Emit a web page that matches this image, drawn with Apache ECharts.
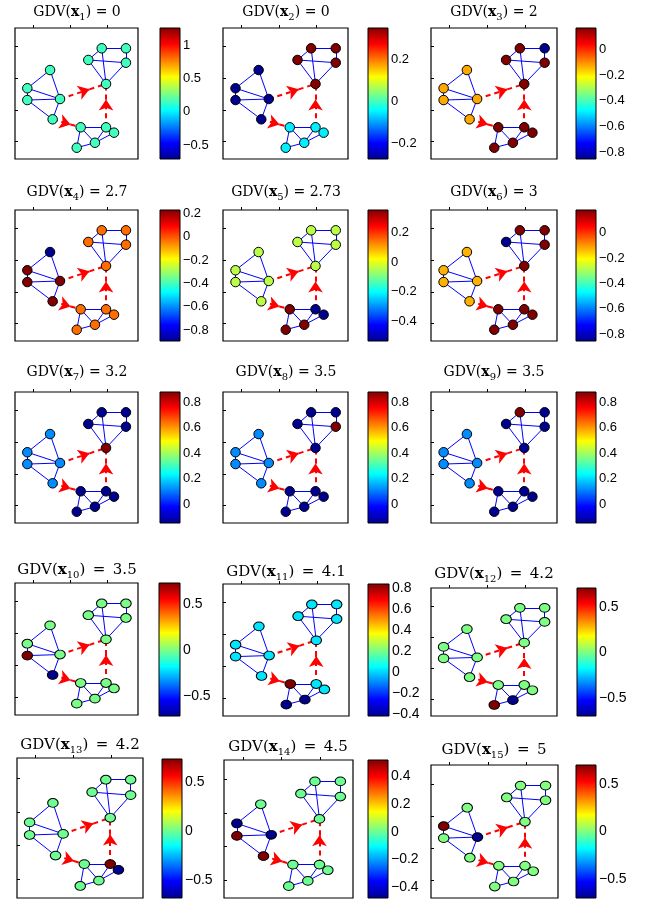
<!DOCTYPE html>
<html>
<head>
<meta charset="utf-8">
<script src="https://cdn.jsdelivr.net/npm/echarts@6/dist/echarts.min.js"></script>
<style>
  html, body { margin: 0; padding: 0; background: #fff; }
  #main { width: 652px; height: 906px; }
</style>
</head>
<body>
<div id="main"></div>
<script>
// graph layout, percent of the plot box (y measured from the top)
// order: a1..a5 (left cluster), b1..b5 (top right), c1..c5 (bottom)
const nodeX = [28.5, 10.0, 10.0, 36.6, 30.6, 70.5, 90.2, 59.6, 90.2, 74.0, 53.4, 74.0, 80.5, 65.0, 50.2];
const nodeY = [32.1, 46.0, 55.0, 54.2, 69.7, 15.5, 15.5, 24.4, 26.5, 42.7, 75.8, 75.8, 79.9, 87.6, 91.4];
const edges = [
  [0, 1], [0, 3], [1, 2], [1, 3], [2, 3], [2, 4], [3, 4],
  [5, 6], [5, 7], [5, 9], [6, 8], [7, 8], [7, 9], [8, 9],
  [10, 11], [10, 13], [10, 14], [11, 12], [11, 13], [12, 13], [13, 14]
];
const arrows = [[3, 9], [4, 10], [11, 9]];
const xTicks = [14.6, 44.7, 74.8];
const yTicks = [14.2, 38.4, 62.6, 86.8];

const gdv = ['0', '0', '2', '2.7', '2.73', '3', '3.2', '3.5', '3.5', '3.5', '4.1', '4.2', '4.2', '4.5', '5'];

const cbMin = [-0.71, -0.275, -0.85, -0.895, -0.53, -0.855, -0.15, -0.15, -0.15, -0.71, -0.42, -0.70, -0.68, -0.48, -0.70];
const cbMax = [1.255, 0.35, 0.165, 0.23, 0.35, 0.18, 0.88, 0.88, 0.88, 0.73, 0.835, 0.71, 0.73, 0.52, 0.70];
const cbTicks = [
  [-0.5, 0, 0.5, 1],
  [-0.2, 0, 0.2],
  [-0.8, -0.6, -0.4, -0.2, 0],
  [-0.8, -0.6, -0.4, -0.2, 0, 0.2],
  [-0.4, -0.2, 0, 0.2],
  [-0.8, -0.6, -0.4, -0.2, 0],
  [0, 0.2, 0.4, 0.6, 0.8],
  [0, 0.2, 0.4, 0.6, 0.8],
  [0, 0.2, 0.4, 0.6, 0.8],
  [-0.5, 0, 0.5],
  [-0.4, -0.2, 0, 0.2, 0.4, 0.6, 0.8],
  [-0.5, 0, 0.5],
  [-0.5, 0, 0.5],
  [-0.4, -0.2, 0, 0.2, 0.4],
  [-0.5, 0, 0.5]
];

// node values, one row per panel
const vals1  = [0.15, 0.15, 0.15, 0.15, 0.15, 0.15, 0.15, 0.15, 0.15, 0.15, 0.15, 0.15, 0.15, 0.15, 0.15];
const vals2  = [-0.275, -0.275, -0.275, -0.275, -0.275, 0.35, 0.35, 0.35, 0.35, 0.35, -0.05, -0.05, -0.05, -0.05, -0.05];
const vals3  = [-0.13, -0.13, -0.13, -0.13, -0.13, 0.165, -0.85, 0.165, 0.165, 0.165, 0.165, 0.165, 0.165, 0.165, 0.165];
const vals4  = [-0.895, 0.23, 0.23, 0.23, 0.23, -0.03, -0.03, -0.03, -0.03, -0.03, -0.03, -0.03, -0.03, -0.03, -0.03];
const vals5  = [-0.04, -0.04, -0.04, -0.04, -0.04, -0.04, -0.04, -0.04, -0.04, -0.04, 0.35, -0.53, -0.53, 0.35, 0.35];
const vals6  = [-0.13, -0.13, -0.13, -0.13, -0.13, 0.18, 0.18, -0.855, 0.18, 0.18, 0.18, 0.18, 0.18, 0.18, 0.18];
const vals7  = [0.12, 0.12, 0.12, 0.12, 0.12, -0.15, -0.15, -0.15, -0.15, 0.88, -0.15, -0.15, -0.15, -0.15, -0.15];
const vals8  = [0.12, 0.12, 0.12, 0.12, 0.12, -0.15, -0.15, -0.15, 0.88, -0.15, -0.15, -0.15, -0.15, -0.15, -0.15];
const vals9  = [0.12, 0.12, 0.12, 0.12, 0.12, 0.88, -0.15, -0.15, -0.15, -0.15, -0.15, -0.15, -0.15, -0.15, -0.15];
const vals10 = [0, 0, 0.73, 0, -0.71, 0, 0, 0, 0, 0, 0, 0, 0, 0, 0];
const vals11 = [0.02, 0.02, 0.02, 0.02, 0.02, 0.02, 0.02, 0.02, 0.02, 0.02, 0.835, 0.02, 0.02, -0.42, -0.42];
const vals12 = [0, 0, 0, 0, 0, 0, 0, 0, 0, 0, 0, 0, 0, -0.70, 0.71];
const vals13 = [0, 0, 0, 0, 0, 0, 0, 0, 0, 0, 0, 0.73, -0.68, 0, 0];
const vals14 = [0, -0.48, 0.52, -0.48, 0.52, 0, 0, 0, 0, 0, 0, 0, 0, 0, 0];
const vals15 = [0, 0.70, 0, -0.70, 0, 0, 0, 0, 0, 0, 0, 0, 0, 0, 0];
const nodeVals = [vals1, vals2, vals3, vals4, vals5, vals6, vals7, vals8, vals9, vals10, vals11, vals12, vals13, vals14, vals15];

// page layout: plot box, colorbar box, title centre
const panels = [
  { box: [15, 28, 123, 131],  cb: [160, 28, 20, 131],  t: [77, 12] },
  { box: [223, 28, 125, 131], cb: [368, 28, 20, 131],  t: [286, 12] },
  { box: [431, 28, 126, 131], cb: [576, 28, 20, 131],  t: [494, 12] },
  { box: [15, 210, 123, 131], cb: [160, 210, 20, 131], t: [77, 192] },
  { box: [223, 210, 125, 131], cb: [368, 210, 20, 131], t: [286, 192] },
  { box: [431, 210, 126, 131], cb: [576, 210, 20, 131], t: [494, 192] },
  { box: [15, 392, 123, 131], cb: [160, 392, 20, 131], t: [77, 372] },
  { box: [223, 392, 125, 131], cb: [368, 392, 20, 131], t: [286, 372] },
  { box: [431, 392, 126, 131], cb: [576, 392, 20, 131], t: [494, 372] },
  { box: [15, 583, 123, 132], cb: [159, 583, 21, 133], t: [77, 570], big: true },
  { box: [223, 584, 126, 132], cb: [368, 584, 21, 132], t: [286, 572], big: true },
  { box: [431, 588, 126, 128], cb: [577, 588, 19, 128], t: [494, 574], big: true },
  { box: [17, 758, 126, 140], cb: [162, 759, 20, 139], t: [80, 745], big: true },
  { box: [224, 760, 129, 138], cb: [368, 760, 20, 138], t: [288, 747], big: true },
  { box: [431, 765, 127, 133], cb: [576, 765, 20, 133], t: [494, 750], big: true }
];

const jet = ['#00008F', '#0000FF', '#0080FF', '#00FFFF', '#80FF80', '#FFFF00', '#FF8000', '#FF0000', '#800000'];
const arrowAt = 0.64;

function fmt(v) {
  return v < 0 ? '\u2212' + Math.abs(v) : String(v);
}

const chart = echarts.init(document.getElementById('main'));
const grid = [], xAxis = [], yAxis = [], series = [], visualMap = [], title = [];
const pt = i => [nodeX[i], nodeY[i]];

panels.forEach((pn, k) => {
  const g = 2 * k, c = 2 * k + 1;
  grid.push({
    left: pn.box[0], top: pn.box[1], width: pn.box[2], height: pn.box[3],
    show: true, borderColor: '#000', borderWidth: 1.2, backgroundColor: '#fff'
  });
  grid.push({ left: pn.cb[0], top: pn.cb[1], width: pn.cb[2], height: pn.cb[3] });

  const tickStyle = { inside: true, length: 3, lineStyle: { color: '#000', width: 1 } };
  xAxis.push({
    gridIndex: g, type: 'value', min: 0, max: 100,
    axisLine: { show: false }, splitLine: { show: false }, axisLabel: { show: false },
    axisTick: Object.assign({ customValues: xTicks }, tickStyle)
  });
  yAxis.push({
    gridIndex: g, type: 'value', min: 0, max: 100, inverse: true,
    axisLine: { show: false }, splitLine: { show: false }, axisLabel: { show: false },
    axisTick: Object.assign({ customValues: yTicks }, tickStyle)
  });
  xAxis.push({ gridIndex: c, type: 'value', min: 0, max: 1, show: false });
  yAxis.push({
    gridIndex: c, type: 'value', min: cbMin[k], max: cbMax[k], position: 'right',
    axisLine: { show: false }, splitLine: { show: false }, axisTick: { show: false },
    axisLabel: {
      customValues: cbTicks[k], formatter: fmt, margin: 3, color: '#000',
      fontFamily: 'Liberation Sans', fontSize: pn.big ? 14 : 13
    }
  });

  // edges
  series.push({
    type: 'lines', coordinateSystem: 'cartesian2d', xAxisIndex: g, yAxisIndex: g,
    silent: true, z: 2,
    lineStyle: { color: '#0000FF', width: 1, opacity: 1 },
    data: edges.map(e => ({ coords: [pt(e[0]), pt(e[1])] }))
  });
  // dashed red arrows, head part way along
  const mids = arrows.map(a => {
    const p = pt(a[0]), q = pt(a[1]);
    return [p[0] + (q[0] - p[0]) * arrowAt, p[1] + (q[1] - p[1]) * arrowAt];
  });
  series.push({
    type: 'lines', coordinateSystem: 'cartesian2d', xAxisIndex: g, yAxisIndex: g,
    silent: true, z: 3, symbol: ['none', 'arrow'], symbolSize: 11,
    lineStyle: { color: '#FF0000', width: 2, type: [5, 4], opacity: 1 },
    data: arrows.map((a, i) => ({ coords: [pt(a[0]), mids[i]] }))
  });
  series.push({
    type: 'lines', coordinateSystem: 'cartesian2d', xAxisIndex: g, yAxisIndex: g,
    silent: true, z: 3, symbol: 'none',
    lineStyle: { color: '#FF0000', width: 2, type: [5, 4], opacity: 1 },
    data: arrows.map((a, i) => ({ coords: [mids[i], pt(a[1])] }))
  });
  // nodes
  visualMap.push({
    type: 'continuous', show: false, seriesIndex: series.length, dimension: 2,
    min: cbMin[k], max: cbMax[k], inRange: { color: jet }
  });
  series.push({
    type: 'scatter', xAxisIndex: g, yAxisIndex: g, z: 4, silent: true,
    symbolSize: pn.big ? [10.5, 8.8] : 9.5,
    itemStyle: { borderColor: '#000', borderWidth: 1, opacity: 1 },
    data: nodeVals[k].map((v, i) => [nodeX[i], nodeY[i], v])
  });
  // colorbar
  series.push({
    type: 'custom', xAxisIndex: c, yAxisIndex: c, silent: true,
    data: [[0, cbMin[k], 1, cbMax[k]]],
    renderItem: (params, api) => {
      const tl = api.coord([api.value(0), api.value(3)]);
      const br = api.coord([api.value(2), api.value(1)]);
      const stops = jet.slice().reverse().map((col, i) => ({ offset: i / (jet.length - 1), color: col }));
      return {
        type: 'rect',
        shape: { x: tl[0], y: tl[1], width: br[0] - tl[0], height: br[1] - tl[1] },
        style: { fill: new echarts.graphic.LinearGradient(0, 0, 0, 1, stops), stroke: '#000', lineWidth: 1 }
      };
    }
  });

  const fam = 'DejaVu Serif';
  const fs = pn.big ? 15 : 14;
  const eq = pn.big ? ')\u2002=\u2002' : ') = ';
  title.push({
    text: '{n|GDV(}{b|x}{s|' + (k + 1) + '}{n|' + eq + gdv[k] + '}',
    left: pn.t[0], top: pn.t[1], textAlign: 'center', textVerticalAlign: 'middle', padding: 0,
    textStyle: {
      fontWeight: 'normal',
      rich: {
        n: { fontFamily: fam, fontSize: fs, fontWeight: 'normal', color: '#000', lineHeight: 20 },
        b: { fontFamily: fam, fontSize: fs, fontWeight: 'bold', color: '#000', lineHeight: 20 },
        s: { fontFamily: fam, fontSize: 10, fontWeight: 'normal', color: '#000', lineHeight: 14, verticalAlign: 'bottom' }
      }
    }
  });
});

chart.setOption({
  animation: false,
  backgroundColor: '#fff',
  title, grid, xAxis, yAxis, visualMap, series
});
</script>
</body>
</html>
